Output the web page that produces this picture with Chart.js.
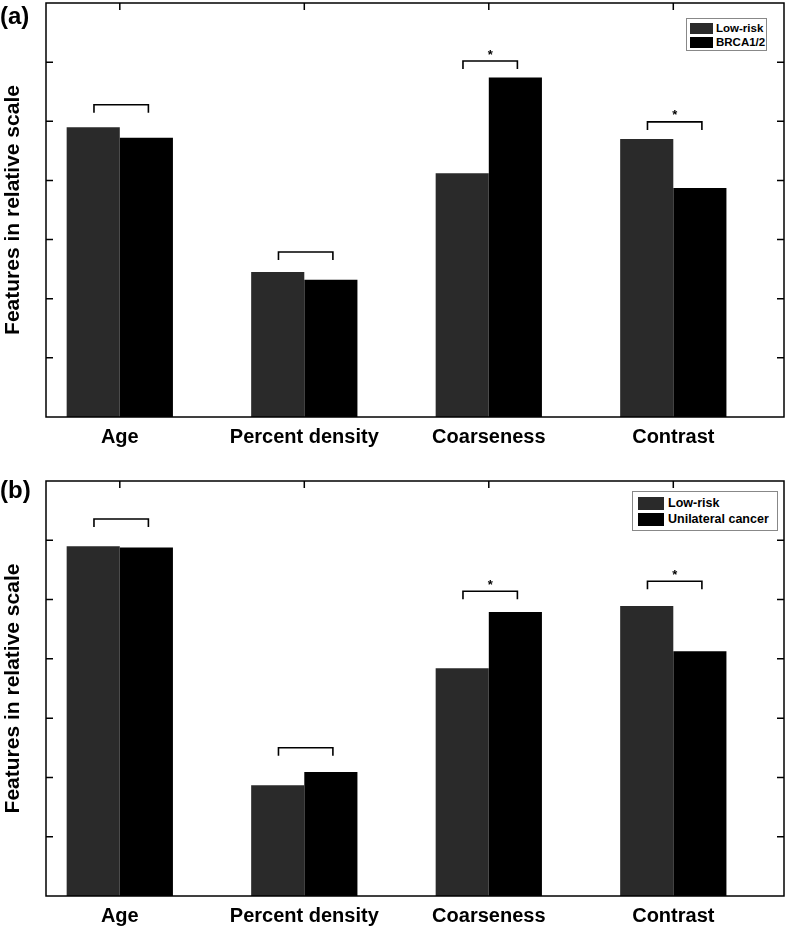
<!DOCTYPE html>
<html>
<head>
<meta charset="utf-8">
<script src="https://cdn.jsdelivr.net/npm/chart.js@4.4.0/dist/chart.umd.min.js"></script>
<style>
  body { margin: 0; background: #fff; font-family: "Liberation Sans", Arial, sans-serif; }
  .panel { position: absolute; left: 0; width: 787px; }
  #panelA { top: 0; height: 463px; }
  #panelB { top: 463px; height: 464px; }
  .tag { position: absolute; left: 0; font-weight: bold; font-size: 24px; line-height: 24px; }
  .legend { position: absolute; border: 1px solid #888; background: #fff; font-weight: bold; box-sizing: border-box; }
  .legend .row { display: flex; align-items: center; white-space: nowrap; }
  .legend .sw { display: inline-block; flex: none; }
</style>
</head>
<body>
<div class="panel" id="panelA">
  <canvas id="chartA"></canvas>
  <div class="tag" style="top:4px">(a)</div>
  <div class="legend" id="legendA" style="left:686px;top:18px;width:81px;height:33px;padding:2px 3px;font-size:11.5px;"></div>
</div>
<div class="panel" id="panelB">
  <canvas id="chartB"></canvas>
  <div class="tag" style="top:15px">(b)</div>
  <div class="legend" id="legendB" style="left:632px;top:28px;width:146px;height:40px;padding:3px 5px;font-size:12.5px;"></div>
</div>
<script>
const categories = ['Age', 'Percent density', 'Coarseness', 'Contrast'];
const categoryPos = [1, 2, 3, 4];
const yTicks = [1, 2, 3, 4, 5, 6];

// panel (a)
const seriesA = ['Low-risk', 'BRCA1/2'];
const lowRiskA = [4.90, 2.45, 4.12, 4.70];
const brcaA = [4.72, 2.32, 5.74, 3.87];
const bracketA = [5.28, 2.79, 6.02, 4.99];

// panel (b)
const seriesB = ['Low-risk', 'Unilateral cancer'];
const lowRiskB = [5.90, 1.87, 3.84, 4.89];
const unilateralB = [5.88, 2.09, 4.79, 4.13];
const bracketB = [6.36, 2.50, 5.14, 5.31];

const significant = [false, false, true, true];

const colors = ['#2a2a2a', '#000000'];
const fontFamily = '"Liberation Sans", Arial, sans-serif';

const framePlugin = {
  id: 'frame',
  afterDatasetsDraw(chart, args, opts) {
    const { ctx, chartArea: a, scales: { x, y } } = chart;
    ctx.save();
    ctx.strokeStyle = '#000';
    ctx.lineWidth = 1.5;
    ctx.strokeRect(a.left, a.top, a.right - a.left, a.bottom - a.top);

    ctx.beginPath();
    yTicks.forEach(v => {
      const py = y.getPixelForValue(v);
      ctx.moveTo(a.left, py); ctx.lineTo(a.left + 7, py);
      ctx.moveTo(a.right, py); ctx.lineTo(a.right - 7, py);
    });
    categoryPos.forEach(v => {
      const px = x.getPixelForValue(v);
      ctx.moveTo(px, a.top); ctx.lineTo(px, a.top + 7);
    });
    ctx.stroke();

    // significance brackets
    ctx.lineWidth = 1.6;
    ctx.fillStyle = '#000';
    ctx.font = 'bold 13px ' + fontFamily;
    ctx.textAlign = 'center';
    ctx.textBaseline = 'middle';
    opts.brackets.forEach((b, i) => {
      const x0 = x.getPixelForValue(categoryPos[i] - 0.14);
      const x1 = x.getPixelForValue(categoryPos[i] + 0.155);
      const py = y.getPixelForValue(b);
      ctx.beginPath();
      ctx.moveTo(x0, py + 8); ctx.lineTo(x0, py); ctx.lineTo(x1, py); ctx.lineTo(x1, py + 8);
      ctx.stroke();
      if (significant[i]) ctx.fillText('*', (x0 + x1) / 2, py - 6);
    });
    ctx.restore();
  }
};

function makePanel(canvasId, legendId, names, values, brackets, padding, swatch) {
  const datasets = names.map((name, k) => ({
    label: name,
    data: categoryPos.map((p, i) => ({ x: p, y: values[k][i] })),
    backgroundColor: colors[k],
    borderWidth: 0,
    barPercentage: 1,
    categoryPercentage: 0.576
  }));

  new Chart(document.getElementById(canvasId), {
    type: 'bar',
    data: { datasets },
    options: {
      responsive: true,
      maintainAspectRatio: false,
      animation: false,
      layout: { padding },
      plugins: {
        legend: { display: false },
        tooltip: { enabled: false },
        frame: { brackets }
      },
      scales: {
        x: {
          type: 'linear',
          min: 0.6,
          max: 4.6,
          offset: false,
          grid: { display: false, drawTicks: false },
          border: { display: false },
          afterBuildTicks: s => { s.ticks = categoryPos.map(v => ({ value: v })); },
          afterFit: s => { s.height = 31; },
          ticks: {
            autoSkip: false,
            maxRotation: 0,
            padding: 8,
            color: '#000',
            font: { family: fontFamily, size: 20, weight: 'bold' },
            callback: (v, i) => categories[i]
          }
        },
        y: {
          min: 0,
          max: 7,
          grid: { display: false, drawTicks: false },
          border: { display: false },
          ticks: { display: false },
          afterFit: s => { s.width = 46; },
          title: {
            display: true,
            text: 'Features in relative scale',
            color: '#000',
            font: { family: fontFamily, size: 21, weight: 'bold' },
            padding: { top: 1, bottom: 0 }
          }
        }
      }
    },
    plugins: [framePlugin]
  });

  const legend = document.getElementById(legendId);
  legend.innerHTML = names.map((name, k) => `
    <div class="row" style="height:${swatch.row}px">
      <span class="sw" style="width:${swatch.w}px;height:${swatch.h}px;background:${colors[k]};margin-right:${swatch.gap}px"></span>
      <span>${name}</span>
    </div>`).join('');
}

makePanel('chartA', 'legendA', seriesA, [lowRiskA, brcaA], bracketA,
  { top: 3, right: 3, left: 0, bottom: 15 }, { w: 23, h: 11, gap: 3, row: 14 });
makePanel('chartB', 'legendB', seriesB, [lowRiskB, unilateralB], bracketB,
  { top: 18, right: 3, left: 0, bottom: 0 }, { w: 26, h: 13, gap: 4, row: 16 });
</script>
</body>
</html>
